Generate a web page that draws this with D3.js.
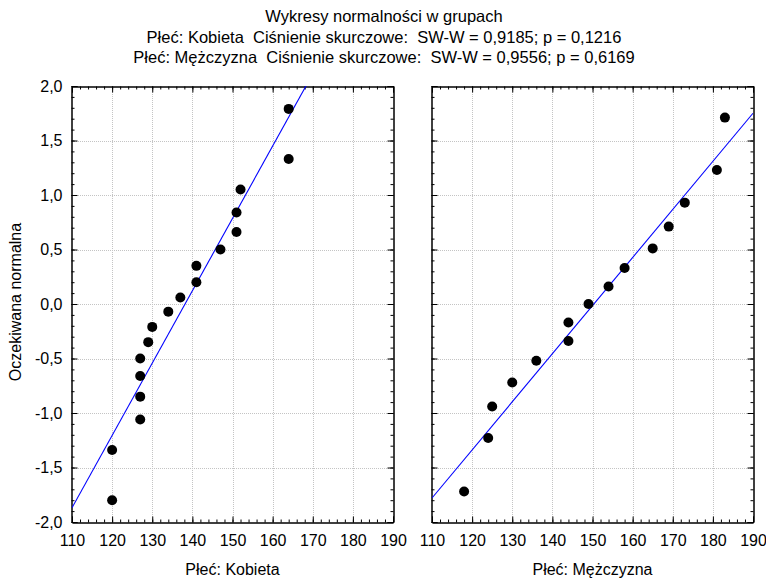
<!DOCTYPE html>
<html>
<head>
<meta charset="utf-8">
<script src="https://cdn.jsdelivr.net/npm/d3@7"></script>
<style>
  html, body { margin: 0; padding: 0; background: #fff; }
  svg { display: block; font-family: Arial, "Liberation Sans", sans-serif; }
  text { white-space: pre; }
</style>
</head>
<body>
<svg id="chart" width="766" height="578"></svg>
<script>
// ---- Data ----
const titleLines = [
  "Wykresy normalności w grupach",
  "Płeć: Kobieta  Ciśnienie skurczowe:  SW-W = 0,9185; p = 0,1216",
  "Płeć: Mężczyzna  Ciśnienie skurczowe:  SW-W = 0,9556; p = 0,6169"
];
const yAxisTitle = "Oczekiwana normalna";
const panelLabels = ["Płeć: Kobieta", "Płeć: Mężczyzna"];

const xTicks = [110, 120, 130, 140, 150, 160, 170, 180, 190];
const yTicks = [-2.0, -1.5, -1.0, -0.5, 0.0, 0.5, 1.0, 1.5, 2.0];

// Kobieta: observed values and expected normal values
const kobietaX = [120, 120, 127, 127, 127, 127, 129, 130, 134, 137, 141, 141, 147, 151, 151, 152, 164, 164];
const kobietaY = [-1.80, -1.34, -1.06, -0.85, -0.66, -0.50, -0.35, -0.21, -0.07, 0.06, 0.20, 0.35, 0.50, 0.66, 0.84, 1.05, 1.33, 1.79];
// Mężczyzna
const mezczyznaX = [118, 124, 125, 130, 136, 144, 144, 149, 154, 158, 165, 169, 173, 181, 183];
const mezczyznaY = [-1.72, -1.23, -0.94, -0.72, -0.52, -0.34, -0.17, 0.00, 0.16, 0.33, 0.51, 0.71, 0.93, 1.23, 1.71];

// Reference lines: endpoints [x, y]
const kobietaLine = [[110, -1.87], [190, 3.44]];
const mezczyznaLine = [[110, -1.78], [190, 1.75]];

// ---- Drawing ----
const svg = d3.select("#chart");
const fmt = v => d3.format(".1f")(v).replace(".", ",").replace("−", "-");
const FONT = 16;
const TITLE_FONT = 16.5;
const FAMILY = "Arial, 'Liberation Sans', sans-serif";

const plotTop = 86, plotBottom = 522;
const panels = [
  { left: 72, right: 393, xs: kobietaX, ys: kobietaY, line: kobietaLine, label: panelLabels[0], showY: true },
  { left: 432, right: 753, xs: mezczyznaX, ys: mezczyznaY, line: mezczyznaLine, label: panelLabels[1], showY: false }
];

// Title
svg.append("g").selectAll("text").data(titleLines).join("text")
  .attr("x", 384).attr("y", (d, i) => 22 + i * 20.5)
  .attr("text-anchor", "middle").attr("font-size", TITLE_FONT).attr("fill", "#000")
  .text(d => d);

// Y axis title
svg.append("text")
  .attr("transform", "translate(21,302) rotate(-90)")
  .attr("text-anchor", "middle").attr("font-size", FONT).attr("fill", "#000")
  .text(yAxisTitle);

const defs = svg.append("defs");

panels.forEach((p, pi) => {
  const x = d3.scaleLinear().domain([110, 190]).range([p.left, p.right]);
  const y = d3.scaleLinear().domain([-2, 2]).range([plotBottom, plotTop]);
  const g = svg.append("g");

  // grid
  g.append("g").selectAll("line").data(xTicks.slice(1, -1)).join("line")
    .attr("x1", d => Math.round(x(d)) + 0.5).attr("x2", d => Math.round(x(d)) + 0.5)
    .attr("y1", plotTop).attr("y2", plotBottom)
    .attr("stroke", "#c4c4c4").attr("stroke-dasharray", "1,1");
  g.append("g").selectAll("line").data(yTicks.slice(1, -1)).join("line")
    .attr("y1", d => Math.round(y(d)) + 0.5).attr("y2", d => Math.round(y(d)) + 0.5)
    .attr("x1", p.left).attr("x2", p.right)
    .attr("stroke", "#c4c4c4").attr("stroke-dasharray", "1,1");

  const xMinor = d3.range(110, 190.01, 2);
  const yMinor = d3.range(-20, 20.01, 1).map(v => v / 10);

  const bAxis = g.append("g").attr("transform", `translate(0,${plotBottom + 0.5})`)
    .call(d3.axisBottom(x).tickValues(xTicks).tickSize(-6).tickPadding(12).tickFormat(d3.format("d")));
  bAxis.selectAll("text").attr("font-size", FONT).attr("font-family", FAMILY).attr("fill", "#000");
  g.append("g").attr("transform", `translate(0,${plotBottom + 0.5})`)
    .call(d3.axisBottom(x).tickValues(xMinor).tickSize(-3).tickFormat(""));
  g.append("g").attr("transform", `translate(0,${plotTop + 0.5})`)
    .call(d3.axisTop(x).tickValues(xTicks).tickSize(-6).tickFormat(""));
  g.append("g").attr("transform", `translate(0,${plotTop + 0.5})`)
    .call(d3.axisTop(x).tickValues(xMinor).tickSize(-3).tickFormat(""));

  const lAxis = g.append("g").attr("transform", `translate(${p.left - 0.5},0)`)
    .call(d3.axisLeft(y).tickValues(yTicks).tickSize(-6).tickPadding(p.showY ? 9 : 0)
      .tickFormat(p.showY ? fmt : ""));
  lAxis.selectAll("text").attr("font-size", FONT).attr("font-family", FAMILY).attr("fill", "#000");
  g.append("g").attr("transform", `translate(${p.left - 0.5},0)`)
    .call(d3.axisLeft(y).tickValues(yMinor).tickSize(-3).tickFormat(""));
  g.append("g").attr("transform", `translate(${p.right + 0.5},0)`)
    .call(d3.axisRight(y).tickValues(yTicks).tickSize(-6).tickFormat(""));
  g.append("g").attr("transform", `translate(${p.right + 0.5},0)`)
    .call(d3.axisRight(y).tickValues(yMinor).tickSize(-3).tickFormat(""));

  g.selectAll(".domain").attr("stroke", "#000");
  g.selectAll(".tick line").attr("stroke", "#000");

  const cid = "clip" + pi;
  defs.append("clipPath").attr("id", cid).append("rect")
    .attr("x", p.left).attr("y", plotTop).attr("width", p.right - p.left).attr("height", plotBottom - plotTop);

  g.append("path")
    .attr("clip-path", `url(#${cid})`)
    .attr("d", d3.line().x(d => x(d[0])).y(d => y(d[1]))(p.line))
    .attr("fill", "none").attr("stroke", "#0000ff").attr("stroke-width", 1.1);

  g.append("g").selectAll("circle").data(p.xs.map((v, i) => [v, p.ys[i]])).join("circle")
    .attr("cx", d => x(d[0])).attr("cy", d => y(d[1])).attr("r", 5).attr("fill", "#000");

  g.append("text")
    .attr("x", (p.left + p.right) / 2).attr("y", 575)
    .attr("text-anchor", "middle").attr("font-size", FONT).attr("fill", "#000")
    .text(p.label);
});
</script>
</body>
</html>
